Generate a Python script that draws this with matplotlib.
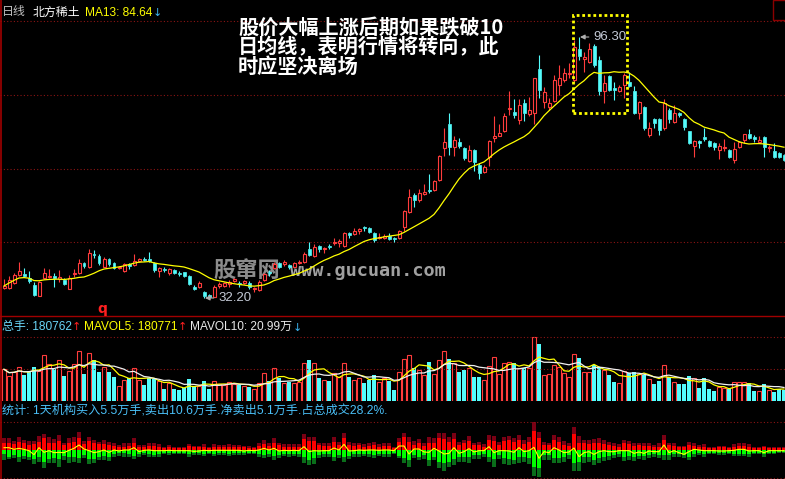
import numpy as np
import pandas as pd
import matplotlib
matplotlib.use('Agg')
import matplotlib.pyplot as plt
from matplotlib.patches import Rectangle
from matplotlib.lines import Line2D

# daily candles (price units)
opens = [34.66, 34.66, 35.89, 37.85, 38.09, 37.11, 35.39, 32.69, 37.11, 37.36,
         37.60, 36.87, 36.62, 34.41, 38.09, 38.34, 40.79, 39.81, 43.01, 42.52,
         39.81, 41.78, 40.79, 39.57, 38.83, 40.55, 40.30, 41.29, 41.78, 41.78,
         40.79, 38.83, 39.32, 38.34, 39.08, 38.34, 38.59, 37.60, 34.90, 34.90,
         33.60, 33.00, 32.50, 35.15, 35.15, 35.64, 36.38, 35.89, 35.89, 35.89,
         34.41, 34.17, 36.62, 38.59, 39.57, 40.79, 40.55, 40.30, 39.81, 40.79,
         41.04, 44.24, 42.52, 44.97, 44.24, 44.97, 45.71, 45.71, 44.97, 48.17,
         47.92, 48.65, 49.64, 49.39, 48.17, 46.94, 46.94, 47.43, 46.94, 46.94,
         49.64, 53.32, 57.50, 56.27, 57.74, 58.73, 58.73, 61.18, 69.04, 74.93,
         69.29, 70.52, 69.04, 65.85, 68.55, 64.87, 63.15, 66.83, 71.50, 71.99,
         73.22, 78.62, 77.88, 75.92, 80.09, 77.39, 77.64, 88.44, 80.34, 79.11,
         80.58, 84.51, 85.74, 87.22, 85.74, 93.36, 90.90, 90.16, 94.09, 90.65,
         83.04, 86.72, 83.78, 83.04, 84.51, 85.25, 83.04, 77.64, 79.11, 72.23,
         76.16, 76.16, 73.95, 78.37, 75.43, 77.64, 76.16, 73.22, 69.53, 70.76,
         71.74, 70.76, 70.27, 68.55, 69.04, 68.55, 66.09, 69.29, 71.01, 72.48,
         71.74, 70.52, 71.74, 69.04, 68.30, 67.81, 67.32]
highs = [36.87, 37.60, 38.34, 41.04, 39.57, 38.83, 36.13, 36.38, 39.57, 39.32,
         38.34, 39.08, 37.11, 37.85, 39.32, 41.78, 41.04, 44.24, 43.99, 43.01,
         42.27, 42.02, 41.04, 40.06, 40.79, 40.79, 43.01, 42.02, 42.27, 43.50,
         41.04, 39.70, 39.81, 39.57, 39.32, 38.83, 38.70, 37.85, 35.39, 36.38,
         34.00, 33.20, 35.30, 36.13, 36.13, 36.62, 37.11, 36.38, 36.62, 36.38,
         34.90, 36.62, 38.34, 39.08, 41.04, 41.04, 41.53, 40.55, 41.04, 41.53,
         43.50, 45.95, 45.46, 45.10, 44.73, 45.46, 46.94, 46.69, 48.30, 48.30,
         49.39, 49.39, 49.88, 49.64, 48.41, 48.17, 47.92, 48.17, 47.18, 48.90,
         53.81, 58.97, 57.99, 58.97, 60.20, 62.66, 61.18, 67.32, 73.95, 77.64,
         71.99, 71.50, 69.29, 69.78, 68.70, 65.36, 64.87, 70.90, 76.90, 74.93,
         77.64, 83.04, 81.07, 81.07, 81.07, 81.57, 86.30, 91.88, 84.02, 81.32,
         86.97, 89.43, 88.69, 89.92, 95.50, 96.30, 92.62, 94.83, 94.58, 91.64,
         86.97, 86.97, 85.25, 84.51, 87.46, 87.71, 84.27, 80.50, 79.36, 75.43,
         76.41, 76.41, 81.07, 78.86, 79.60, 77.88, 76.30, 73.30, 71.01, 71.01,
         73.95, 71.01, 70.52, 70.27, 71.25, 68.70, 70.52, 70.76, 72.60, 73.71,
         72.23, 71.99, 71.90, 69.78, 70.27, 68.06, 67.57]
lows = [34.41, 34.41, 35.64, 37.60, 37.36, 35.89, 32.69, 32.60, 36.87, 37.11,
        34.90, 36.13, 35.39, 34.29, 37.36, 38.09, 39.57, 39.57, 42.02, 40.30,
        39.70, 40.06, 39.32, 39.32, 38.59, 39.32, 40.06, 41.04, 41.29, 41.04,
        38.59, 37.36, 38.59, 37.85, 38.09, 37.60, 37.36, 35.39, 34.17, 34.66,
        32.20, 32.30, 32.40, 34.66, 35.00, 34.90, 36.13, 34.90, 35.64, 34.41,
        33.67, 33.92, 36.38, 37.60, 39.32, 39.57, 40.06, 39.32, 39.57, 40.55,
        40.79, 42.52, 42.27, 43.50, 43.25, 44.24, 45.22, 44.73, 44.73, 46.94,
        47.68, 47.92, 48.65, 48.17, 45.95, 46.69, 46.69, 46.45, 45.95, 46.69,
        48.65, 53.08, 54.55, 55.78, 57.50, 57.99, 58.48, 60.94, 67.08, 67.32,
        67.08, 69.04, 66.09, 65.60, 63.39, 61.43, 62.90, 64.62, 70.52, 71.90,
        72.97, 77.15, 76.41, 74.93, 75.67, 76.90, 74.93, 81.32, 78.86, 78.37,
        80.34, 82.06, 85.25, 86.23, 85.25, 90.65, 87.71, 89.92, 88.93, 82.06,
        80.09, 83.04, 80.83, 82.80, 81.32, 84.02, 77.39, 76.16, 73.46, 71.74,
        73.95, 72.23, 73.46, 75.18, 75.18, 76.65, 73.46, 70.02, 66.83, 69.04,
        70.76, 69.29, 68.55, 66.34, 68.30, 66.59, 65.36, 69.04, 70.27, 71.25,
        70.52, 70.27, 66.83, 68.06, 66.70, 66.59, 65.85]
closes = [35.15, 36.62, 37.85, 38.83, 37.60, 36.38, 32.94, 36.13, 38.34, 37.70,
          37.11, 37.36, 35.64, 37.11, 38.46, 40.79, 40.06, 43.25, 42.76, 40.79,
          41.78, 40.55, 39.57, 39.81, 40.55, 40.06, 41.29, 41.78, 41.53, 41.29,
          39.08, 39.57, 39.08, 39.32, 38.34, 38.09, 37.60, 35.64, 34.41, 35.89,
          32.60, 32.45, 34.90, 35.64, 35.89, 36.13, 36.87, 35.64, 36.38, 34.90,
          34.66, 36.13, 38.09, 38.34, 40.55, 39.81, 41.04, 39.81, 40.79, 41.04,
          43.01, 42.76, 44.73, 44.24, 44.48, 44.73, 45.95, 46.10, 48.17, 47.68,
          48.65, 49.15, 49.39, 48.41, 46.45, 47.18, 47.43, 46.69, 46.69, 48.65,
          53.57, 57.01, 56.27, 57.99, 58.24, 58.48, 60.94, 67.08, 70.52, 69.29,
          71.01, 69.53, 66.59, 68.55, 65.60, 62.90, 64.37, 70.76, 71.99, 72.72,
          76.90, 78.86, 77.15, 79.60, 77.64, 78.37, 86.23, 83.28, 82.80, 80.09,
          85.74, 86.23, 87.46, 87.46, 93.85, 91.64, 91.39, 93.36, 89.43, 83.04,
          85.00, 83.28, 83.28, 84.02, 86.97, 84.27, 77.64, 80.34, 73.95, 73.95,
          75.18, 73.46, 80.09, 76.16, 77.64, 77.15, 74.20, 70.27, 70.76, 70.27,
          71.25, 69.53, 69.29, 69.53, 69.29, 66.83, 68.80, 70.52, 72.48, 71.50,
          71.25, 71.01, 69.29, 69.29, 66.83, 66.83, 66.09]

# volume, 万手
volumes = [52.3, 41.3, 48.3, 56.6, 42.9, 49.5, 56.6, 49.5, 75.9, 61.1,
           52.3, 67.7, 41.3, 49.5, 60.6, 82.5, 44.1, 78.7, 67.7, 48.3,
           55.6, 48.3, 40.1, 24.8, 34.7, 37.5, 54.0, 34.7, 26.4, 37.5,
           35.8, 33.0, 19.8, 29.2, 19.3, 18.2, 21.0, 35.8, 24.8, 25.2,
           33.0, 19.8, 33.0, 28.1, 26.4, 31.8, 28.1, 26.4, 24.8, 22.6,
           19.3, 29.2, 46.7, 33.5, 54.0, 37.5, 30.2, 31.8, 30.2, 31.8,
           63.2, 67.7, 62.2, 37.5, 34.7, 33.5, 46.7, 40.1, 62.2, 40.1,
           34.7, 37.5, 30.2, 34.7, 42.4, 31.8, 37.5, 33.5, 18.8, 48.3,
           68.8, 75.9, 54.0, 51.2, 42.9, 63.9, 44.6, 67.7, 82.5, 68.8,
           63.2, 47.9, 51.2, 54.9, 39.1, 39.1, 34.7, 57.8, 72.1, 44.6,
           63.2, 63.9, 62.2, 54.0, 54.9, 54.5, 105.1, 94.1, 42.9, 44.6,
           59.4, 56.6, 45.7, 39.1, 77.6, 70.5, 47.4, 47.4, 59.4, 55.6,
           51.2, 42.9, 31.8, 29.2, 50.0, 45.7, 47.9, 44.1, 42.9, 36.3,
           28.1, 33.5, 59.4, 39.1, 31.8, 28.1, 28.1, 41.3, 37.5, 21.5,
           37.5, 19.8, 16.5, 23.6, 21.0, 19.8, 31.8, 30.9, 30.9, 29.2,
           16.5, 16.5, 28.1, 18.2, 15.3, 19.3, 18.1]

# bottom panel: buy / big buy above zero, sell / big sell below
buy = [20, 22, 18, 25, 20, 15, 18, 25, 35, 22, 20, 28, 15, 22, 25, 37, 18, 27, 20, 18,
       18, 15, 12, 10, 10, 12, 20, 10, 8, 12, 12, 10, 6, 10, 6, 6, 6, 12, 8, 8,
       10, 6, 10, 8, 8, 10, 8, 8, 8, 7, 6, 12, 18, 12, 22, 14, 10, 10, 10, 10,
       32, 28, 27, 14, 12, 12, 25, 15, 35, 15, 12, 14, 10, 12, 15, 10, 12, 12, 6, 25,
       38, 25, 15, 20, 12, 22, 20, 37, 32, 25, 32, 15, 20, 27, 15, 15, 10, 30, 28, 15,
       27, 30, 25, 30, 18, 25, 58, 35, 15, 15, 30, 25, 15, 12, 48, 22, 20, 18, 20, 20,
       18, 15, 12, 10, 20, 18, 12, 15, 12, 12, 10, 10, 30, 15, 12, 8, 8, 15, 12, 8,
       10, 6, 6, 8, 8, 6, 10, 12, 12, 10, 6, 6, 8, 6, 6, 5, 5]
buy_big = [17, 13, 9, 15, 10, 13, 10, 17, 13, 16, 12, 17, 7, 15, 15, 18, 10, 13, 10, 7,
           12, 10, 10, 5, 10, 8, 15, 5, 7, 8, 8, 8, 4, 5, 4, 4, 4, 6, 4, 4,
           7, 4, 7, 7, 7, 7, 7, 7, 4, 5, 4, 8, 12, 8, 13, 8, 7, 8, 7, 8,
           16, 12, 13, 8, 8, 8, 13, 10, 17, 10, 8, 8, 7, 8, 10, 7, 8, 8, 4, 12,
           14, 15, 13, 13, 10, 18, 15, 15, 18, 15, 20, 10, 10, 15, 7, 10, 8, 15, 14, 10,
           13, 12, 10, 15, 12, 15, 27, 20, 10, 7, 15, 15, 12, 10, 20, 20, 10, 12, 12, 15,
           12, 10, 8, 8, 10, 10, 10, 7, 8, 10, 5, 10, 15, 7, 8, 4, 4, 10, 10, 7,
           8, 4, 4, 4, 4, 4, 7, 8, 8, 7, 4, 4, 4, 4, 4, 3, 3]
sell = [12, 20, 15, 20, 18, 20, 27, 20, 35, 28, 25, 28, 18, 22, 20, 25, 15, 28, 28, 20,
        18, 20, 13, 10, 10, 12, 18, 12, 10, 12, 15, 12, 8, 10, 8, 8, 8, 12, 10, 10,
        12, 8, 12, 10, 10, 12, 10, 10, 10, 8, 8, 12, 15, 12, 18, 15, 12, 12, 12, 12,
        22, 30, 25, 15, 13, 13, 20, 15, 20, 18, 13, 13, 12, 13, 15, 12, 13, 13, 8, 18,
        25, 30, 15, 20, 15, 30, 20, 35, 40, 35, 28, 20, 20, 20, 15, 15, 13, 20, 28, 15,
        25, 28, 30, 20, 20, 25, 50, 53, 15, 15, 25, 25, 20, 15, 40, 35, 20, 20, 30, 25,
        20, 18, 15, 12, 20, 18, 20, 18, 18, 15, 12, 15, 15, 15, 12, 12, 15, 20, 12, 10,
        12, 8, 8, 10, 10, 8, 12, 12, 12, 12, 8, 8, 12, 8, 8, 6, 6]
sell_big = [18, 8, 10, 15, 10, 10, 15, 15, 20, 12, 15, 24, 12, 16, 15, 15, 10, 14, 10, 10,
            12, 12, 9, 8, 10, 8, 10, 8, 6, 8, 7, 8, 4, 6, 4, 4, 4, 8, 6, 5,
            6, 4, 6, 6, 6, 6, 6, 6, 5, 5, 4, 8, 10, 8, 12, 10, 6, 8, 6, 8,
            16, 15, 17, 10, 9, 9, 12, 10, 15, 10, 9, 9, 6, 7, 10, 6, 7, 7, 4, 7,
            15, 22, 10, 10, 13, 17, 10, 20, 22, 15, 17, 15, 15, 18, 13, 12, 7, 15, 22, 12,
            17, 17, 12, 18, 15, 17, 27, 27, 15, 15, 13, 15, 15, 13, 22, 27, 18, 15, 15, 15,
            12, 12, 10, 8, 12, 12, 12, 10, 12, 10, 8, 10, 15, 15, 10, 8, 10, 10, 8, 5,
            8, 4, 4, 5, 5, 4, 6, 6, 6, 8, 4, 4, 8, 4, 4, 4, 4]

W, H = 785, 479
RED = '#ff3c3c'
CYAN = '#54fcfc'
GRID = '#8c1414'
SEP = '#a00000'
FONT = ['Liberation Sans', 'Noto Sans CJK SC', 'DejaVu Sans']
CJK = ['Noto Sans CJK SC', 'DejaVu Sans']

o = np.array(opens); h = np.array(highs); l = np.array(lows); c = np.array(closes)
v = np.array(volumes)
n = len(c)
idx = np.arange(n)
up = c >= o

fig = plt.figure(figsize=(W/100, H/100), dpi=100, facecolor='black')
renderer = fig.canvas.get_renderer()

def px_axes(top, bottom):
    ax = fig.add_axes([0, 1-bottom/H, 1, (bottom-top)/H])
    ax.set_facecolor('black')
    ax.set_axis_off()
    ax.set_xlim(-0.8, n-0.8)
    return ax

def dotted(ax, frac):
    ax.plot([0, 1], [frac, frac], transform=ax.transAxes, color=GRID, lw=0.8, ls=(0, (1, 2)))

def ftext(x, y, s, color, size=8.6, family=FONT, **kw):
    return fig.text(x/W, 1-y/H, s, color=color, fontsize=size, family=family,
                    va='center', ha='left', **kw)

def chain(x, y, pieces):
    # pieces: (text, colour, gap after); arrows get DejaVu Sans
    for s, col, gap in pieces:
        if s in '↑↓':
            t = ftext(x, y+0.5, s, col, size=8, family='DejaVu Sans')
        else:
            t = ftext(x, y, s, col)
        x = t.get_window_extent(renderer).x1 + gap

# ---- price panel
ax1 = px_axes(0, 316)
ax1.set_ylim(105.39-316*0.2456, 105.39)
for ypx in [21, 95, 169, 242]:
    dotted(ax1, 1-ypx/316)

lo_b = np.minimum(o, c); hi_b = np.maximum(o, c)
for mask, col in ((up, RED), (~up, CYAN)):
    ax1.vlines(idx[mask], l[mask], lo_b[mask], color=col, lw=0.8, zorder=2)
    ax1.vlines(idx[mask], hi_b[mask], h[mask], color=col, lw=0.8, zorder=2)
ax1.bar(idx[up], (hi_b-lo_b)[up], bottom=lo_b[up], width=0.6, facecolor='black',
        edgecolor=RED, lw=0.8, zorder=3)
ax1.bar(idx[~up], np.maximum(hi_b-lo_b, 0.15)[~up], bottom=lo_b[~up], width=0.6,
        facecolor=CYAN, edgecolor=CYAN, lw=0.5, zorder=3)

ma13 = pd.Series(c).rolling(13, min_periods=1).mean()
ax1.plot(idx, ma13, color='#ffff00', lw=0.9, zorder=4)

imax = int(np.argmax(h)); imin = int(np.argmin(l))
for i, val in ((imax, h[imax]), (imin, l[imin])):
    ax1.annotate(f'{val:.2f}', xy=(i+0.2, val), xytext=(i+2.8, val),
                 color='#c4cad6', fontsize=9.5, family=FONT, va='center', ha='left',
                 arrowprops=dict(arrowstyle='-|>', color='#b0b0b0', lw=0.8,
                                 mutation_scale=7, shrinkA=1, shrinkB=0))

# dotted box round the top
ax1.add_patch(Rectangle((113.8, 77.64), 10.8, 24.07, fill=False, edgecolor='#ffff00',
                        lw=2, ls=(0, (1, 1)), zorder=5))

# watermark behind the candles
ax1.text(213/W, 1-270/H, '股窜网', transform=fig.transFigure, color='#8c8c8c', fontsize=16,
         family=CJK, weight='bold', va='center', ha='left', zorder=0)
ax1.text(290/W, 1-271/H, 'www.gucuan.com', transform=fig.transFigure, color='#a0a0a0',
         fontsize=13.3, family='DejaVu Sans Mono', weight='bold', va='center', ha='left', zorder=0)

# ---- volume panel
ax2 = px_axes(316, 401)
ax2.set_ylim(0, 85*1.65)
dotted(ax2, (401-337)/85)
dotted(ax2, (401-369)/85)
ax2.bar(idx[up], v[up], width=0.7, facecolor='black', edgecolor=RED, lw=0.8)
ax2.bar(idx[~up], v[~up], width=0.75, facecolor=CYAN, edgecolor=CYAN, lw=0)
vs = pd.Series(v)
ax2.plot(idx, vs.rolling(5, min_periods=1).mean(), color='#ffff00', lw=0.9)
ax2.plot(idx, vs.rolling(10, min_periods=1).mean(), color='#f0f0f0', lw=0.9)

# ---- institution panel
ax3 = px_axes(404, 479)
ax3.set_ylim(-87, 138)
dotted(ax3, (479-422)/75)
dotted(ax3, (479-478)/75)
b = np.array(buy); bb = np.array(buy_big); s = np.array(sell); sb = np.array(sell_big)
ax3.bar(idx, b, width=0.8, color='#ff0000', lw=0)
ax3.bar(idx, bb, bottom=b, width=0.8, color='#7a0014', lw=0)
ax3.bar(idx, -s, width=0.8, color='#00ff00', lw=0)
ax3.bar(idx, -sb, bottom=-s, width=0.8, color='#0a6e1a', lw=0)
ax3.plot(idx, (b+bb)-(s+sb), color='#ffff00', lw=0.8)

# frame lines
fig.add_artist(Line2D([0, 1], [1-316/H]*2, color=SEP, lw=1))
fig.add_artist(Line2D([0.6/W]*2, [0, 1], color=SEP, lw=1.2))
fig.add_artist(Rectangle((773/W, 1-20/H), 13/W, 20/H, fill=False, edgecolor='#8b0000',
                         lw=1, transform=fig.transFigure))

# header texts
chain(2, 12.5, [('日线', '#c0c0c0', 7), ('北方稀土', '#ffffff', 5),
                ('MA13: 84.64', '#ffff00', 0), ('↓', '#3cb4f0', 0)])
chain(2, 327, [('总手: 180762', '#6ad6f8', 0), ('↑', '#ff2020', 3),
               ('MAVOL5: 180771', '#ffff00', 0), ('↑', '#ff2020', 3),
               ('MAVOL10: 20.99万', '#e8e8e8', 0), ('↓', '#3cb4f0', 0)])

ftext(2, 411.5, '统计: 1天机构买入5.5万手,卖出10.6万手.净卖出5.1万手.占总成交28.2%.', '#4ac0f8',
      size=8.7)

ftext(97, 309, 'q', '#ff2020', size=10, family='DejaVu Sans', weight='bold')

# big note
note = ['股价大幅上涨后期如果跌破10', '日均线，表明行情将转向，此', '时应坚决离场']
for k, line in enumerate(note):
    ftext(238, 27+19.5*k, line, '#ffffff', size=14.5, family=CJK, weight='bold')

fig.savefig('out.png', dpi=100, facecolor='black')
